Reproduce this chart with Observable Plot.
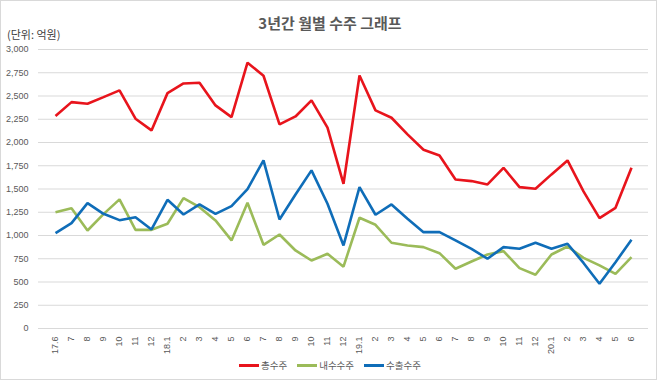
<!DOCTYPE html>
<html>
<head>
<meta charset="utf-8">
<script src="https://cdn.jsdelivr.net/npm/d3@7"></script>
<script src="https://cdn.jsdelivr.net/npm/@observablehq/plot@0.6"></script>
<style>
  html, body { margin: 0; padding: 0; background: #fff; }
  #wrap { position: relative; width: 660px; height: 382px; overflow: hidden; font-family: "Noto Sans CJK KR", "Noto Sans", sans-serif; }
  #frame { position: absolute; left: 0; top: 0; width: 655px; height: 378px; border: 1px solid #d9d9d9; box-sizing: content-box; pointer-events: none; }
  #title { position: absolute; left: 0; width: 660px; top: 12px; text-align: center; font-size: 15px; font-weight: 700; color: #595959; }
  #unit { position: absolute; left: 7px; top: 26px; font-size: 11px; color: #404040; }
  #chart { position: absolute; left: 0; top: 0; }
  #legend { position: absolute; left: 0; width: 660px; top: 358px; display: flex; justify-content: center; align-items: center; gap: 10px; font-size: 9.5px; color: #595959; }
  .item { display: flex; align-items: center; }
  .sw { width: 20px; height: 3px; margin-right: 2px; }
</style>
</head>
<body>
<div id="wrap">
  <div id="chart"></div>
  <div id="title">3년간 월별 수주 그래프</div>
  <div id="unit">(단위: 억원)</div>
  <div id="legend"></div>
  <div id="frame"></div>
</div>
<script>
const months = ["17.6","7","8","9","10","11","12",
  "18.1","2","3","4","5","6","7","8","9","10","11","12",
  "19.1","2","3","4","5","6","7","8","9","10","11","12",
  "20.1","2","3","4","5","6"];
const total = [2284,2434,2417,2488,2560,2256,2130,
  2531,2635,2643,2399,2273,2858,2718,2194,2280,2453,2159,1556,
  2721,2345,2266,2087,1922,1861,1603,1585,1549,1728,1520,1503,
  1657,1807,1475,1187,1298,1728];
const domestic = [1251,1294,1054,1230,1388,1061,1061,
  1126,1402,1305,1162,947,1352,900,1011,839,731,803,665,
  1191,1115,922,893,875,810,642,721,796,832,649,578,
  796,882,760,678,588,767];
const exportV = [1025,1133,1348,1233,1165,1197,1065,
  1384,1226,1334,1233,1316,1499,1807,1172,1441,1700,1341,893,
  1520,1223,1334,1180,1036,1036,947,857,750,875,857,922,
  857,911,705,481,713,954];
const seriesNames = ["총수주","내수수주","수출수주"];
const seriesColors = ["#e8141c","#9bbb59","#0f6db8"];
const yTicks = d3.range(0, 3001, 250);

const rows = [];
[total, domestic, exportV].forEach((arr, s) => {
  arr.forEach((v, i) => rows.push({i, v, s: seriesNames[s]}));
});

const chart = Plot.plot({
  width: 660,
  height: 382,
  marginTop: 49,
  marginBottom: 54,
  marginLeft: 38,
  marginRight: 12,
  style: { fontFamily: "'Liberation Sans', Arial, sans-serif", background: "transparent" },
  x: { type: "point", domain: d3.range(months.length), padding: 0.5 },
  y: { domain: [0, 3000] },
  color: { domain: seriesNames, range: seriesColors },
  marks: [
    Plot.ruleY(yTicks, { stroke: "#d9d9d9", strokeWidth: 1 }),
    Plot.axisY({ ticks: yTicks, tickFormat: d3.format(","), tickSize: 0, tickPadding: 10, fontSize: 9, fill: "#595959", label: null }),
    Plot.axisX({ tickFormat: i => months[i], tickSize: 0, tickPadding: 8, tickRotate: -90, fontSize: 9, fill: "#595959", label: null }),
    Plot.line(rows, { x: "i", y: "v", z: "s", stroke: "s", strokeWidth: 2.6, strokeLinejoin: "miter", strokeLinecap: "butt" })
  ]
});
document.getElementById("chart").appendChild(chart);

const legend = document.getElementById("legend");
seriesNames.forEach((n, k) => {
  const it = document.createElement("div");
  it.className = "item";
  it.innerHTML = `<span class="sw" style="background:${seriesColors[k]}"></span><span>${n}</span>`;
  legend.appendChild(it);
});
</script>
</body>
</html>
